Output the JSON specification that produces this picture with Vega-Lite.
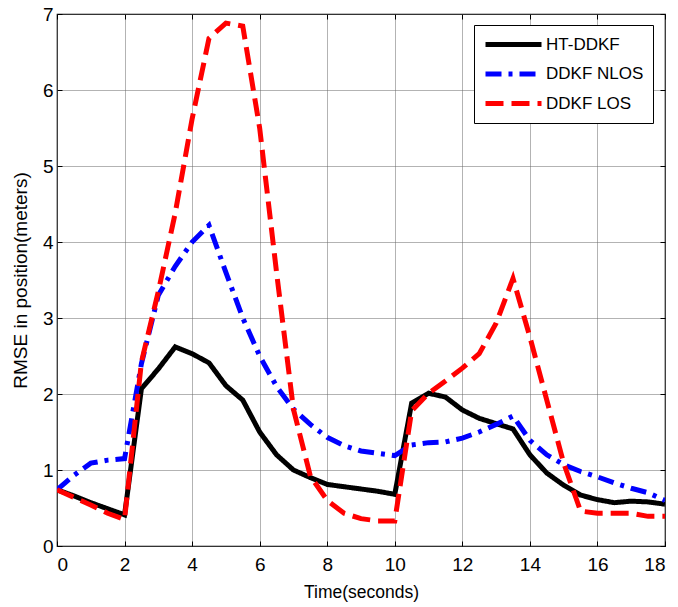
{
  "$schema": "https://vega.github.io/schema/vega-lite/v6.json",
  "width": 608,
  "height": 532,
  "autosize": {"type": "none"},
  "padding": {"left": 57, "top": 14, "right": 13, "bottom": 61},
  "background": "white",
  "config": {
    "view": {"stroke": "black", "strokeWidth": 1.2},
    "font": "Liberation Sans",
    "axis": {
      "labelFont": "Liberation Sans",
      "titleFont": "Liberation Sans",
      "labelColor": "black",
      "titleColor": "black",
      "labelFontSize": 19,
      "titleFontWeight": "normal",
      "tickColor": "black",
      "domain": false
    }
  },
  "data": {
    "values": [
      {"t": 0, "series": "HT-DDKF", "v": 0.74}, {"t": 0.5, "series": "HT-DDKF", "v": 0.66}, {"t": 1, "series": "HT-DDKF", "v": 0.57}, {"t": 1.5, "series": "HT-DDKF", "v": 0.49}, {"t": 2, "series": "HT-DDKF", "v": 0.41},
      {"t": 2.5, "series": "HT-DDKF", "v": 2.07}, {"t": 3, "series": "HT-DDKF", "v": 2.33}, {"t": 3.5, "series": "HT-DDKF", "v": 2.62}, {"t": 4, "series": "HT-DDKF", "v": 2.53}, {"t": 4.5, "series": "HT-DDKF", "v": 2.41},
      {"t": 5, "series": "HT-DDKF", "v": 2.11}, {"t": 5.5, "series": "HT-DDKF", "v": 1.92}, {"t": 6, "series": "HT-DDKF", "v": 1.5}, {"t": 6.5, "series": "HT-DDKF", "v": 1.2}, {"t": 7, "series": "HT-DDKF", "v": 1.0},
      {"t": 7.5, "series": "HT-DDKF", "v": 0.9}, {"t": 8, "series": "HT-DDKF", "v": 0.81}, {"t": 8.5, "series": "HT-DDKF", "v": 0.78}, {"t": 9, "series": "HT-DDKF", "v": 0.75}, {"t": 9.5, "series": "HT-DDKF", "v": 0.72},
      {"t": 10, "series": "HT-DDKF", "v": 0.68}, {"t": 10.5, "series": "HT-DDKF", "v": 1.88}, {"t": 11, "series": "HT-DDKF", "v": 2.01}, {"t": 11.5, "series": "HT-DDKF", "v": 1.96}, {"t": 12, "series": "HT-DDKF", "v": 1.79},
      {"t": 12.5, "series": "HT-DDKF", "v": 1.68}, {"t": 13, "series": "HT-DDKF", "v": 1.61}, {"t": 13.5, "series": "HT-DDKF", "v": 1.54}, {"t": 14, "series": "HT-DDKF", "v": 1.2}, {"t": 14.5, "series": "HT-DDKF", "v": 0.96},
      {"t": 15, "series": "HT-DDKF", "v": 0.8}, {"t": 15.5, "series": "HT-DDKF", "v": 0.67}, {"t": 16, "series": "HT-DDKF", "v": 0.61}, {"t": 16.5, "series": "HT-DDKF", "v": 0.57}, {"t": 17, "series": "HT-DDKF", "v": 0.59},
      {"t": 17.5, "series": "HT-DDKF", "v": 0.58}, {"t": 18, "series": "HT-DDKF", "v": 0.55},

      {"t": 0, "series": "DDKF NLOS", "v": 0.74}, {"t": 0.5, "series": "DDKF NLOS", "v": 0.93}, {"t": 1, "series": "DDKF NLOS", "v": 1.09}, {"t": 1.5, "series": "DDKF NLOS", "v": 1.13}, {"t": 2, "series": "DDKF NLOS", "v": 1.15},
      {"t": 2.5, "series": "DDKF NLOS", "v": 2.4}, {"t": 3, "series": "DDKF NLOS", "v": 3.3}, {"t": 3.5, "series": "DDKF NLOS", "v": 3.68}, {"t": 4, "series": "DDKF NLOS", "v": 4.0}, {"t": 4.5, "series": "DDKF NLOS", "v": 4.22},
      {"t": 5, "series": "DDKF NLOS", "v": 3.6}, {"t": 5.5, "series": "DDKF NLOS", "v": 3.0}, {"t": 6, "series": "DDKF NLOS", "v": 2.5}, {"t": 6.5, "series": "DDKF NLOS", "v": 2.1}, {"t": 7, "series": "DDKF NLOS", "v": 1.8},
      {"t": 7.5, "series": "DDKF NLOS", "v": 1.6}, {"t": 8, "series": "DDKF NLOS", "v": 1.43}, {"t": 8.5, "series": "DDKF NLOS", "v": 1.32}, {"t": 9, "series": "DDKF NLOS", "v": 1.25}, {"t": 9.5, "series": "DDKF NLOS", "v": 1.22},
      {"t": 10, "series": "DDKF NLOS", "v": 1.19}, {"t": 10.5, "series": "DDKF NLOS", "v": 1.33}, {"t": 11, "series": "DDKF NLOS", "v": 1.36}, {"t": 11.5, "series": "DDKF NLOS", "v": 1.37}, {"t": 12, "series": "DDKF NLOS", "v": 1.42},
      {"t": 12.5, "series": "DDKF NLOS", "v": 1.5}, {"t": 13, "series": "DDKF NLOS", "v": 1.6}, {"t": 13.5, "series": "DDKF NLOS", "v": 1.71}, {"t": 14, "series": "DDKF NLOS", "v": 1.39}, {"t": 14.5, "series": "DDKF NLOS", "v": 1.2},
      {"t": 15, "series": "DDKF NLOS", "v": 1.07}, {"t": 15.5, "series": "DDKF NLOS", "v": 0.98}, {"t": 16, "series": "DDKF NLOS", "v": 0.91}, {"t": 16.5, "series": "DDKF NLOS", "v": 0.83}, {"t": 17, "series": "DDKF NLOS", "v": 0.76},
      {"t": 17.5, "series": "DDKF NLOS", "v": 0.7}, {"t": 18, "series": "DDKF NLOS", "v": 0.6},

      {"t": 0, "series": "DDKF LOS", "v": 0.74}, {"t": 0.5, "series": "DDKF LOS", "v": 0.64}, {"t": 1, "series": "DDKF LOS", "v": 0.54}, {"t": 1.5, "series": "DDKF LOS", "v": 0.43}, {"t": 2, "series": "DDKF LOS", "v": 0.35},
      {"t": 2.5, "series": "DDKF LOS", "v": 2.42}, {"t": 3, "series": "DDKF LOS", "v": 3.35}, {"t": 3.5, "series": "DDKF LOS", "v": 4.38}, {"t": 4, "series": "DDKF LOS", "v": 5.62}, {"t": 4.5, "series": "DDKF LOS", "v": 6.68},
      {"t": 5, "series": "DDKF LOS", "v": 6.88}, {"t": 5.5, "series": "DDKF LOS", "v": 6.84}, {"t": 6, "series": "DDKF LOS", "v": 5.5}, {"t": 6.5, "series": "DDKF LOS", "v": 3.6}, {"t": 7, "series": "DDKF LOS", "v": 1.8},
      {"t": 7.5, "series": "DDKF LOS", "v": 0.92}, {"t": 8, "series": "DDKF LOS", "v": 0.6}, {"t": 8.5, "series": "DDKF LOS", "v": 0.43}, {"t": 9, "series": "DDKF LOS", "v": 0.36}, {"t": 9.5, "series": "DDKF LOS", "v": 0.33},
      {"t": 10, "series": "DDKF LOS", "v": 0.33}, {"t": 10.5, "series": "DDKF LOS", "v": 1.78}, {"t": 11, "series": "DDKF LOS", "v": 2.01}, {"t": 11.5, "series": "DDKF LOS", "v": 2.17}, {"t": 12, "series": "DDKF LOS", "v": 2.34},
      {"t": 12.5, "series": "DDKF LOS", "v": 2.53}, {"t": 13, "series": "DDKF LOS", "v": 2.93}, {"t": 13.5, "series": "DDKF LOS", "v": 3.52}, {"t": 14, "series": "DDKF LOS", "v": 2.75}, {"t": 14.5, "series": "DDKF LOS", "v": 1.92},
      {"t": 15, "series": "DDKF LOS", "v": 1.09}, {"t": 15.5, "series": "DDKF LOS", "v": 0.46}, {"t": 16, "series": "DDKF LOS", "v": 0.43}, {"t": 16.5, "series": "DDKF LOS", "v": 0.43}, {"t": 17, "series": "DDKF LOS", "v": 0.43},
      {"t": 17.5, "series": "DDKF LOS", "v": 0.39}, {"t": 18, "series": "DDKF LOS", "v": 0.39}
    ]
  },
  "resolve": {"axis": {"x": "independent", "y": "independent"}},
  "layer": [
    {
      "mark": {"type": "line", "strokeWidth": 5, "strokeCap": "butt", "strokeJoin": "miter", "clip": true},
      "encoding": {
        "x": {
          "field": "t", "type": "quantitative",
          "scale": {"domain": [0, 18], "nice": false},
          "axis": {
            "orient": "bottom",
            "values": [0, 2, 4, 6, 8, 10, 12, 14, 16, 18],
            "title": "Time(seconds)",
            "titleFontSize": 17.5,
            "tickSize": -5,
            "labelPadding": 14,
            "titlePadding": 9,
            "grid": true,
            "gridColor": "#666666",
            "gridDash": [1, 1],
            "gridWidth": 1
          }
        },
        "y": {
          "field": "v", "type": "quantitative",
          "scale": {"domain": [0, 7], "nice": false},
          "axis": {
            "orient": "left",
            "values": [0, 1, 2, 3, 4, 5, 6, 7],
            "title": "RMSE in position(meters)",
            "titleFontSize": 19,
            "tickSize": -5,
            "labelPadding": 9,
            "titlePadding": 12,
            "grid": true,
            "gridColor": "#666666",
            "gridDash": [1, 1],
            "gridWidth": 1
          }
        },
        "color": {
          "field": "series", "type": "nominal",
          "scale": {"domain": ["HT-DDKF", "DDKF NLOS", "DDKF LOS"], "range": ["#000000", "#0000ff", "#ff0000"]},
          "legend": {
            "title": null, "orient": "none", "legendX": 417, "legendY": 11,
            "strokeColor": "black", "fillColor": "white", "padding": 9,
            "symbolType": "M-3.5,0H3.5", "symbolSize": 256, "symbolStrokeWidth": 5,
            "symbolOffset": 20,
            "labelFont": "Liberation Sans", "labelFontSize": 17, "labelColor": "black",
            "labelOffset": 22, "rowPadding": 8.5, "labelLimit": 200
          }
        },
        "strokeDash": {
          "field": "series", "type": "nominal",
          "scale": {"domain": ["HT-DDKF", "DDKF NLOS", "DDKF LOS"], "range": [[1, 0], [16, 7, 4, 7], [18, 8]]},
          "legend": {
            "title": null, "orient": "none", "legendX": 417, "legendY": 11,
            "strokeColor": "black", "fillColor": "white", "padding": 9,
            "symbolType": "M-3.5,0H3.5", "symbolSize": 256, "symbolStrokeWidth": 5,
            "symbolOffset": 20,
            "labelFont": "Liberation Sans", "labelFontSize": 17, "labelColor": "black",
            "labelOffset": 22, "rowPadding": 8.5, "labelLimit": 200
          }
        }
      }
    },
    {
      "mark": {"type": "point", "opacity": 0},
      "encoding": {
        "x": {
          "field": "t", "type": "quantitative",
          "scale": {"domain": [0, 18], "nice": false},
          "axis": {"orient": "top", "values": [0, 2, 4, 6, 8, 10, 12, 14, 16, 18], "labels": false, "title": null, "tickSize": -5, "grid": false}
        },
        "y": {
          "field": "v", "type": "quantitative",
          "scale": {"domain": [0, 7], "nice": false},
          "axis": {"orient": "right", "values": [0, 1, 2, 3, 4, 5, 6, 7], "labels": false, "title": null, "tickSize": -5, "grid": false}
        }
      }
    }
  ]
}
